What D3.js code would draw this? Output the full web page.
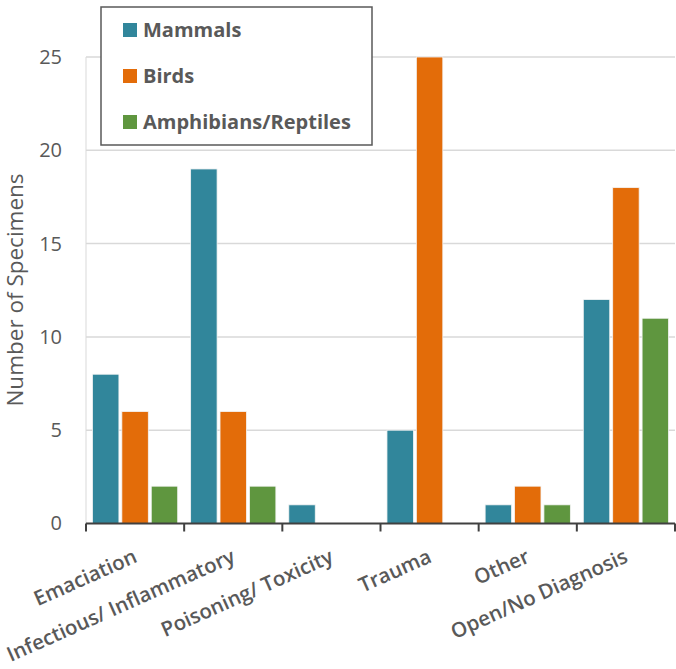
<!DOCTYPE html>
<html>
<head>
<meta charset="utf-8">
<script src="https://cdn.jsdelivr.net/npm/d3@7"></script>
<style>
  body { margin: 0; background: #fff; }
  svg text { font-family: "Open Sans", Lato, sans-serif; fill: #595959; }
</style>
</head>
<body>
<svg width="676" height="669"></svg>
<script>
// chart data
const categories = ['Emaciation', 'Infectious/ Inflammatory', 'Poisoning/ Toxicity', 'Trauma', 'Other', 'Open/No Diagnosis'];
const seriesNames = ['Mammals', 'Birds', 'Amphibians/Reptiles'];
const mammals = [8, 19, 1, 5, 1, 12];
const birds = [6, 6, 0, 25, 2, 18];
const amphibians = [2, 2, 0, 0, 1, 11];
const yTicks = [0, 5, 10, 15, 20, 25];
const colors = ['#31869b', '#e36c09', '#5f963f'];

const seriesValues = [mammals, birds, amphibians];

const svg = d3.select('svg');
const plotLeft = 86, plotRight = 675, plotTop = 57, plotBottom = 523.5;

const x = d3.scaleBand().domain(categories).range([plotLeft, plotRight]).padding(0);
const xs = d3.scaleBand().domain(seriesNames).range([0, x.bandwidth()])
  .paddingInner(0.1).paddingOuter(0.22);
const y = d3.scaleLinear().domain([0, 25]).range([plotBottom, plotTop]);

// gridlines
svg.append('g')
  .selectAll('line')
  .data(yTicks.filter(d => d > 0))
  .enter().append('line')
    .attr('x1', plotLeft).attr('x2', plotRight)
    .attr('y1', d => y(d)).attr('y2', d => y(d))
    .attr('stroke', '#d9d9d9').attr('stroke-width', 1.5);

// left axis line (light)
svg.append('line')
  .attr('x1', plotLeft).attr('x2', plotLeft)
  .attr('y1', y(25)).attr('y2', plotBottom)
  .attr('stroke', '#d9d9d9').attr('stroke-width', 1);

// y tick labels
const yAxis = svg.append('g')
  .attr('transform', `translate(${plotLeft},0)`)
  .call(d3.axisLeft(y).tickValues(yTicks).tickSize(0).tickPadding(24));
yAxis.select('.domain').remove();
yAxis.selectAll('text')
  .style('font-size', '20px')
  .style('font-family', '"Open Sans", sans-serif')
  .attr('fill', '#595959');

// bars
const groups = svg.append('g')
  .selectAll('g')
  .data(seriesNames)
  .enter().append('g')
    .attr('fill', (d, i) => colors[i]);

groups.selectAll('rect')
  .data((s, si) => categories.map((c, ci) => ({ s, c, v: seriesValues[si][ci] })).filter(d => d.v > 0))
  .enter().append('rect')
    .attr('x', d => x(d.c) + xs(d.s))
    .attr('width', xs.bandwidth())
    .attr('y', d => y(d.v))
    .attr('height', d => plotBottom - y(d.v))
    .attr('stroke', '#f4f4f4')
    .attr('stroke-width', 0.8);

// x axis
const xAxis = svg.append('g')
  .attr('transform', `translate(0,${plotBottom})`);
xAxis.append('line')
  .attr('x1', plotLeft).attr('x2', plotRight)
  .attr('stroke', '#404040').attr('stroke-width', 2);
xAxis.selectAll('.sep')
  .data(categories.concat(['end']))
  .enter().append('line')
    .attr('class', 'sep')
    .attr('x1', (d, i) => i < categories.length ? x(d) : plotRight)
    .attr('x2', (d, i) => i < categories.length ? x(d) : plotRight)
    .attr('y1', 0).attr('y2', 8)
    .attr('stroke', '#404040').attr('stroke-width', 2);

// x labels
svg.append('g')
  .selectAll('text')
  .data(categories)
  .enter().append('text')
    .attr('transform', d => `translate(${x(d) + x.bandwidth() / 2 - 3},${plotBottom + 24}) rotate(-24)`)
    .attr('text-anchor', 'end')
    .attr('dy', '0.75em')
    .style('font-size', '20.5px')
    .style('font-weight', 600)
    .text(d => d);

// y title
svg.append('text')
  .attr('transform', `translate(23,290) rotate(-90)`)
  .attr('text-anchor', 'middle')
  .style('font-size', '22.5px')
  .text('Number of Specimens');

// legend
const legend = svg.append('g');
legend.append('rect')
  .attr('x', 101).attr('y', 7)
  .attr('width', 271).attr('height', 138)
  .attr('fill', '#fff')
  .attr('stroke', '#595959').attr('stroke-width', 1.5);

const legendY = d3.scalePoint().domain(seriesNames).range([30, 122]);
const items = legend.selectAll('.item')
  .data(seriesNames)
  .enter().append('g')
    .attr('class', 'item')
    .attr('transform', d => `translate(123,${legendY(d)})`);
items.append('rect')
  .attr('x', 0).attr('y', -7)
  .attr('width', 14).attr('height', 14)
  .attr('fill', (d, i) => colors[i]);
items.append('text')
  .attr('x', 20).attr('dy', '0.35em')
  .style('font-size', '20px')
  .style('font-weight', 'bold')
  .text(d => d);
</script>
</body>
</html>
